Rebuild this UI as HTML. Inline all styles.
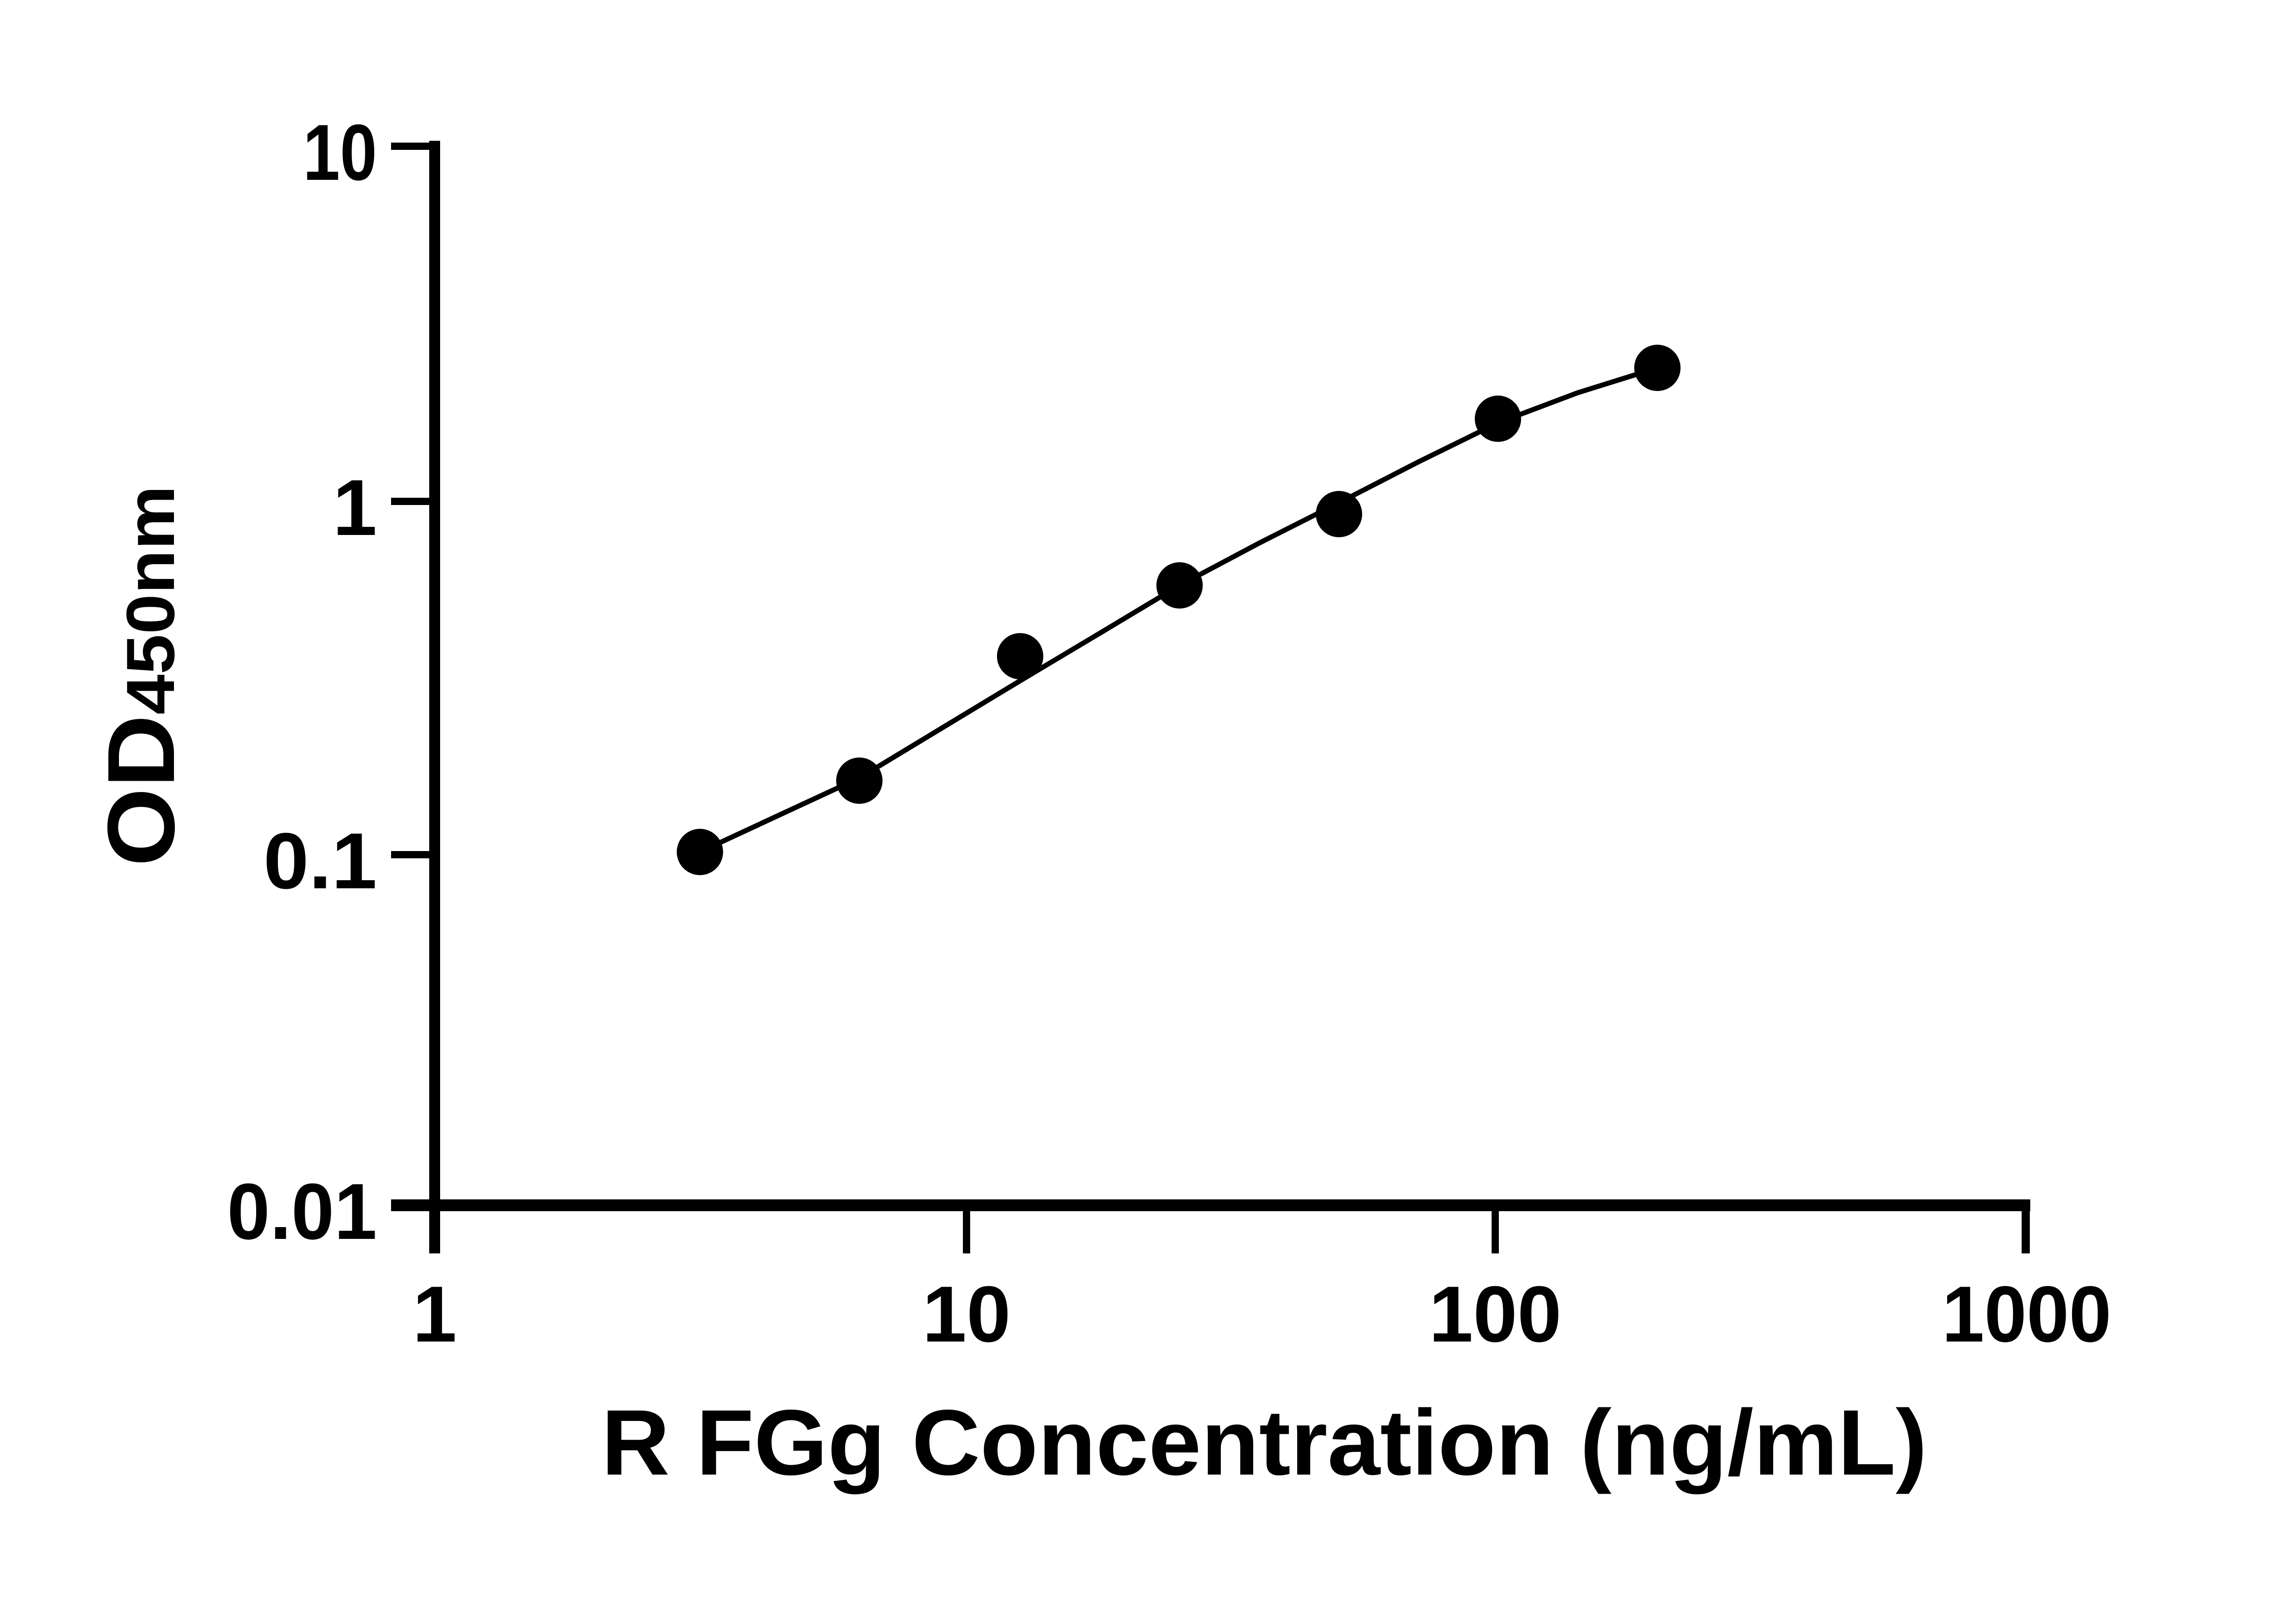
<!DOCTYPE html>
<html><head><meta charset="utf-8"><style>html,body{margin:0;padding:0;background:#fff}svg{display:block}</style></head>
<body>
<svg width="5142" height="3576" viewBox="0 0 5142 3576" xmlns="http://www.w3.org/2000/svg">
<rect width="5142" height="3576" fill="#fff"/>
<g stroke="#000" fill="none" stroke-linecap="butt">
  <line x1="957" y1="310" x2="957" y2="2760" stroke-width="24"/>
  <line x1="861" y1="2654" x2="4470" y2="2654" stroke-width="26"/>
  <line x1="861" y1="322" x2="957" y2="322" stroke-width="16"/>
  <line x1="861" y1="1104" x2="957" y2="1104" stroke-width="16"/>
  <line x1="861" y1="1882" x2="957" y2="1882" stroke-width="16"/>
  <line x1="2128" y1="2654" x2="2128" y2="2760" stroke-width="16"/>
  <line x1="3292" y1="2654" x2="3292" y2="2760" stroke-width="16"/>
  <line x1="4460" y1="2654" x2="4460" y2="2760" stroke-width="18"/>
  <polyline points="1541,1876 1715,1795 1892,1713 2069,1606 2246,1499 2422,1394 2597,1289 2772,1196 2948,1107 3123,1017 3298,931 3473,865 3649,810" stroke-width="11" stroke-linejoin="round"/>
</g>
<g fill="#000">
  <circle cx="1541" cy="1876" r="51"/>
  <circle cx="1892" cy="1719" r="51"/>
  <circle cx="2246" cy="1445" r="51"/>
  <circle cx="2597" cy="1289" r="51"/>
  <circle cx="2948" cy="1132" r="51"/>
  <circle cx="3298" cy="922" r="51"/>
  <circle cx="3649" cy="810" r="51"/>
</g>
<g font-family="Liberation Sans, sans-serif" font-weight="bold" font-size="175" fill="#000" text-anchor="end">
  <text x="830" y="396" textLength="163" lengthAdjust="spacingAndGlyphs">10</text>
  <text x="830" y="1178">1</text>
  <text x="830" y="1956" textLength="250" lengthAdjust="spacingAndGlyphs">0.1</text>
  <text x="830" y="2728" textLength="330" lengthAdjust="spacingAndGlyphs">0.01</text>
</g>
<g font-family="Liberation Sans, sans-serif" font-weight="bold" font-size="175" fill="#000" text-anchor="middle">
  <text x="957" y="2954">1</text>
  <text x="2128" y="2954">10</text>
  <text x="3292" y="2954">100</text>
  <text x="4462" y="2954" textLength="373" lengthAdjust="spacingAndGlyphs">1000</text>
</g>
<text x="1324" y="3247" font-family="Liberation Sans, sans-serif" font-weight="bold" font-size="205" textLength="2919" lengthAdjust="spacingAndGlyphs">R FGg Concentration (ng/mL)</text>
<text transform="translate(383,1908) rotate(-90)" font-family="Liberation Sans, sans-serif" font-weight="bold" fill="#000" textLength="839" lengthAdjust="spacingAndGlyphs"><tspan font-size="210">OD</tspan><tspan font-size="150">450nm</tspan></text>
</svg>
</body></html>
